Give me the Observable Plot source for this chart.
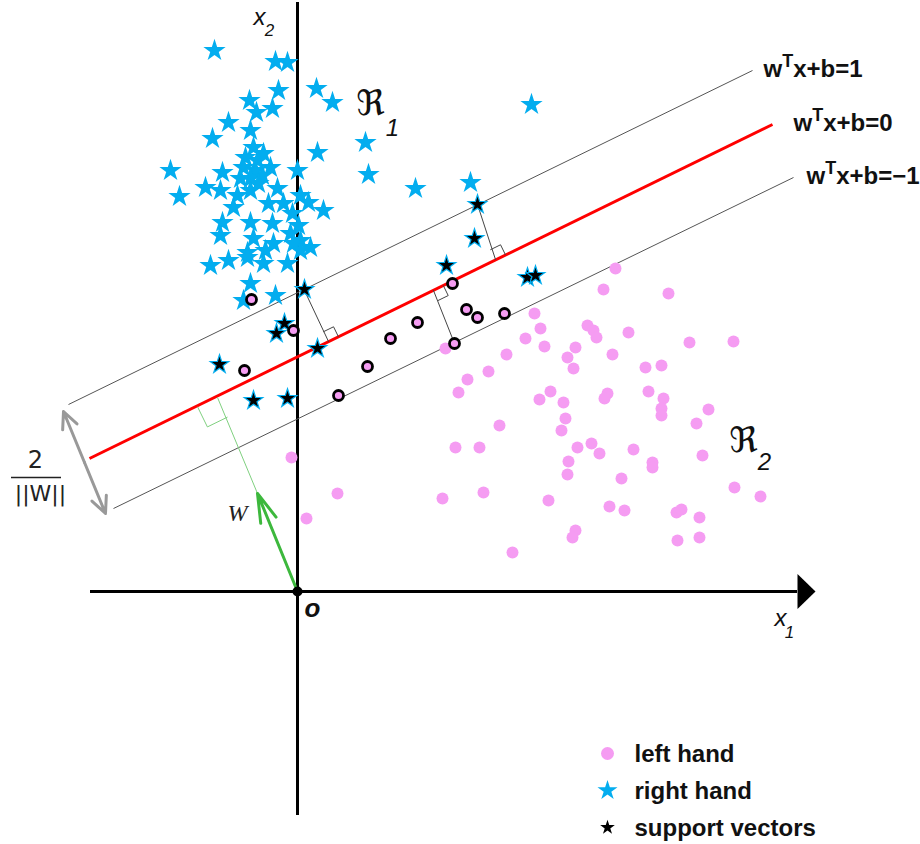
<!DOCTYPE html>
<html><head><meta charset="utf-8">
<script src="https://cdn.jsdelivr.net/npm/d3@7"></script>
<script src="https://cdn.jsdelivr.net/npm/@observablehq/plot@0.6"></script>
<style>
body{margin:0;background:#fff;}
#chart{width:920px;height:844px;}
</style></head><body><div id="chart"></div>
<script>
// ---- Data (chart units, origin O = (0,0)) ----
const rightHand = [
  [-83,541],[-22,530],[-10,529],[19,503],[35,489],[234,487],[-19,501],[-48,491],[-41,479],[-25,483],
  [-69,469],[-47,461],[-85,453],[-44,444],[20,439],[-34,438],[68,449],[71,417],[118,403],[173,409],
  [-127,421],[-118,395],[-75,419],[-54,424],[-42,421],[-27,424],[-47,413],[0,421],[-92,404],[-77,401],
  [-20,403],[3,396],[11,389],[26,381],[-64,384],[-29,388],[-75,369],[-47,369],[-25,368],[1,366],
  [-77,356],[-44,353],[-24,348],[-7,358],[3,351],[13,344],[-50,339],[-40,431],[-52,434],[-35,416],
  [-57,413],[-4,348],[-32,341],[-87,326],[-69,331],[-50,334],[-34,328],[-10,328],[3,341],[-47,308],
  [-22,296],[-54,291],[-47,401],[-39,408],[-60,396],[-14,388],[-5,378]
];
const leftHand = [
  [318,323],[306,302],[371,298],[237,278],[243,263],[290,266],[296,261],[299,254],[331,259],[392,249],
  [436,250],[228,253],[247,245],[278,244],[270,234],[276,223],[315,237],[348,224],[364,226],[209,237],
  [191,220],[170,212],[161,199],[253,200],[242,192],[266,189],[310,198],[307,193],[351,200],[366,193],
  [364,183],[364,176],[411,182],[399,168],[268,173],[264,161],[202,166],[280,144],[294,148],[302,138],
  [336,142],[355,129],[355,124],[405,136],[158,144],[182,144],[271,130],[270,117],[324,113],[437,104],
  [463,95],[145,93],[186,99],[251,91],[312,85],[327,81],[379,79],[384,82],[402,74],[278,61],
  [275,54],[380,51],[402,54],[215,39],[148,243],[-6,134],[40,98],[9,73]
];
const supportStars = [
  [7,302],[-13,268],[-21,258],[20,243],[-78,227],[-44,191],[-10,193],
  [180,387],[177,353],[149,326],[230,314],[238,316]
];
const supportCircles = [
  [-46,292],[-4,261],[-53,221],[41,196],[70,225],[93,253],[120,269],
  [155,308],[169,282],[180,274],[207,278],[157,248]
];
const planeLabels = ["w^Tx+b=1", "w^Tx+b=0", "w^Tx+b=−1"];
const planeStart = [[-229,187], [-208,133], [-184,83]];
const planeEnd = [[455,521], [475,467], [496,414]];
const perpFrom = [[180,387], [157,248], [7,301]];
const perpFoot = [[198,332], [136,301], [31,250]];
const wVector = [[0,0], [-40,98]];
const wFoot = [-80,194];
const marginArrow = [[-234,180], [-192,78]];
const axisX = [-207, 500];
const axisY = [-224, 589];
const legendLabels = ["left hand", "right hand", "support vectors"];

// ---- Styles ----
const PINK = "#f59cf2", BLUE = "#03adef", GREEN = "#3db83d";

// geometry helpers derived from the data
const u = (() => {
  const dx = planeEnd[1][0] - planeStart[1][0], dy = planeEnd[1][1] - planeStart[1][1];
  const l = Math.hypot(dx, dy); return [dx / l, dy / l];
})();
function rightAngle(foot, toward, along, s) {
  let n = [-u[1], u[0]];
  if ((toward[0]-foot[0])*n[0] + (toward[1]-foot[1])*n[1] < 0) n = [-n[0], -n[1]];
  const a = [foot[0] + along*s*u[0], foot[1] + along*s*u[1]];
  return [a, [a[0] + s*n[0], a[1] + s*n[1]], [foot[0] + s*n[0], foot[1] + s*n[1]]];
}
const planes = planeLabels.map((label, i) => ({label, x1: planeStart[i][0], y1: planeStart[i][1], x2: planeEnd[i][0], y2: planeEnd[i][1]}));
const px = d => d[0], py = d => d[1];

const arrowHead = {draw(ctx) { ctx.moveTo(0, -17.5); ctx.lineTo(18, 0); ctx.lineTo(0, 17.5); ctx.closePath(); }};

const marks = [];
// axes
marks.push(Plot.ruleY([0], {x1: axisX[0], x2: axisX[1], stroke: "#000", strokeWidth: 3}));
marks.push(Plot.ruleX([0], {y1: axisY[0], y2: axisY[1], stroke: "#000", strokeWidth: 3}));
marks.push(Plot.dot([[axisX[1], 0]], {x: px, y: py, symbol: arrowHead, fill: "#000", stroke: "none", r: 10}));

// hyperplanes
marks.push(Plot.link(planes.filter((d, i) => i !== 1), {x1: "x1", y1: "y1", x2: "x2", y2: "y2", stroke: "#555", strokeWidth: 1}));
marks.push(Plot.link(planes.filter((d, i) => i === 1), {x1: "x1", y1: "y1", x2: "x2", y2: "y2", stroke: "#ff0000", strokeWidth: 3}));
const labelDx = [11, 21, 13];
planes.forEach((p, i) => {
  marks.push(Plot.text([p], {x: "x2", y: "y2", text: "label", textAnchor: "start", dx: labelDx[i], dy: -1,
    fontSize: 24, fontWeight: "bold", fill: "#111"}));
});

// perpendicular distance segments with right-angle marks
perpFrom.forEach((p, i) => {
  const f = perpFoot[i];
  marks.push(Plot.line([p, f], {x: px, y: py, stroke: "#444", strokeWidth: 1}));
  marks.push(Plot.line(rightAngle(f, p, 1, 11), {x: px, y: py, stroke: "#444", strokeWidth: 1}));
});

// w vector
marks.push(Plot.line([wVector[1], wFoot], {x: px, y: py, stroke: "#7fd07f", strokeWidth: 1}));
marks.push(Plot.line(rightAngle(wFoot, wVector[0], -1, 22), {x: px, y: py, stroke: "#7fd07f", strokeWidth: 1}));
marks.push(Plot.arrow([wVector], {x1: d => d[0][0], y1: d => d[0][1], x2: d => d[1][0], y2: d => d[1][1],
  stroke: GREEN, strokeWidth: 3, headLength: 15, headAngle: 32}));

// margin double arrow
const mid = [(marginArrow[0][0] + marginArrow[1][0]) / 2, (marginArrow[0][1] + marginArrow[1][1]) / 2];
marks.push(Plot.arrow(marginArrow, {x1: () => mid[0], y1: () => mid[1], x2: px, y2: py,
  stroke: "#999", strokeWidth: 3, headLength: 10, headAngle: 50}));

// points
marks.push(Plot.dot(leftHand, {x: px, y: py, r: 6, fill: PINK}));
marks.push(Plot.dot(rightHand, {x: px, y: py, r: 7, symbol: "star", fill: BLUE}));
marks.push(Plot.dot(supportStars, {x: px, y: py, r: 5.8, symbol: "star", fill: "#000", stroke: BLUE, strokeWidth: 1.2}));
marks.push(Plot.dot(supportCircles, {x: px, y: py, r: 5, fill: PINK, stroke: "#000", strokeWidth: 2.8}));

// origin
marks.push(Plot.dot([[0, 0]], {x: px, y: py, r: 5, fill: "#000"}));

// annotations
const italicSans = {fontFamily: "Liberation Sans, Arial, sans-serif", fontStyle: "italic", fill: "#111"};
marks.push(Plot.text(["o"], {x: () => 15, y: () => -17, text: d => d, fontSize: 26, fontWeight: "bold", ...italicSans}));
marks.push(Plot.text(["x"], {x: () => 483, y: () => -27, text: d => d, fontSize: 24, ...italicSans}));
marks.push(Plot.text(["1"], {x: () => 492, y: () => -41, text: d => d, fontSize: 17, ...italicSans}));
marks.push(Plot.text(["x"], {x: () => -38, y: () => 574, text: d => d, fontSize: 24, ...italicSans}));
marks.push(Plot.text(["2"], {x: () => -28, y: () => 561, text: d => d, fontSize: 17, ...italicSans}));
const fraktur = {fontFamily: "DejaVu Serif, DejaVu Sans, serif", fill: "#111", fontSize: 35};
marks.push(Plot.text(["ℜ"], {x: () => 73, y: () => 488, text: d => d, ...fraktur}));
marks.push(Plot.text(["1"], {x: () => 95, y: () => 463, text: d => d, fontSize: 24, ...italicSans}));
marks.push(Plot.text(["ℜ"], {x: () => 446, y: () => 151, text: d => d, ...fraktur}));
marks.push(Plot.text(["2"], {x: () => 467, y: () => 129, text: d => d, fontSize: 24, ...italicSans}));
marks.push(Plot.text(["W"], {x: () => -60, y: () => 78, text: d => d, fontSize: 24,
  fontFamily: "Liberation Serif, Times New Roman, serif", fontStyle: "italic", fill: "#222"}));
// 2 / ||W||
const fracC = [mid[0] - 47, mid[1] - 15];
const fracFont = {fontFamily: "DejaVu Sans, sans-serif", fontSize: 24, fill: "#222"};
marks.push(Plot.text(["2"], {x: () => fracC[0] - 2, y: () => fracC[1] + 17, text: d => d, ...fracFont}));
marks.push(Plot.text(["||W||"], {x: () => fracC[0] + 3, y: () => fracC[1] - 16, text: d => d, ...fracFont, fontSize: 22, letterSpacing: 1.5}));
marks.push(Plot.ruleY([fracC[1]], {x1: fracC[0] - 26, x2: fracC[0] + 24, stroke: "#222", strokeWidth: 1.3}));

// legend
const legendSymbols = ["circle", "star", "star"], legendFills = [PINK, BLUE, "#000"], legendR = [6.5, 6.3, 4.6];
legendLabels.forEach((label, i) => {
  const dy = 753 + i * 37;
  marks.push(Plot.dot([label], {frameAnchor: "top-left", dx: 607, dy, symbol: legendSymbols[i], fill: legendFills[i], r: legendR[i]}));
  marks.push(Plot.text([label], {frameAnchor: "top-left", dx: 634, dy: dy + 1, lineAnchor: "middle", text: d => d, textAnchor: "start",
    fontSize: 24, fontWeight: "bold", fill: "#111"}));
});

const svg = Plot.plot({
  width: 920, height: 844, margin: 0,
  x: {domain: [-297, 623], axis: null},
  y: {domain: [-253, 591], axis: null},
  style: {fontFamily: "Liberation Sans, Arial, sans-serif", background: "#fff", overflow: "visible"},
  marks
});
document.getElementById("chart").append(svg);

// superscripts in hyperplane labels
svg.querySelectorAll("text").forEach(t => {
  const s = t.textContent;
  if (!s.includes("^")) return;
  const base = parseFloat(getComputedStyle(t).fontSize) || 24;
  const [a, b] = s.split("^");
  t.textContent = "";
  t.append(a);
  const ns = "http://www.w3.org/2000/svg";
  const sup = document.createElementNS(ns, "tspan");
  sup.setAttribute("font-size", base * 0.75);
  sup.setAttribute("dy", -base * 0.42);
  sup.textContent = b[0];
  const rest = document.createElementNS(ns, "tspan");
  rest.setAttribute("dy", base * 0.42);
  rest.textContent = b.slice(1);
  t.append(sup, rest);
});
</script></body></html>
